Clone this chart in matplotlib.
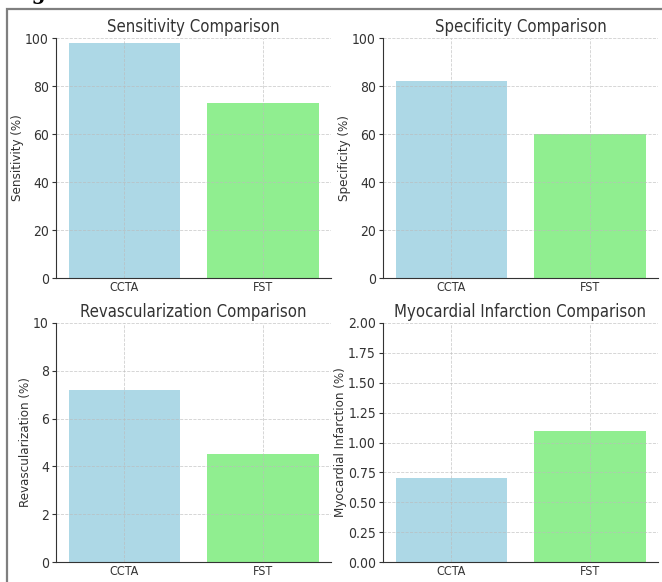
import matplotlib
matplotlib.use("Agg")
import matplotlib.pyplot as plt
from matplotlib.patches import Rectangle

# values
methods = ["CCTA", "FST"]
sensitivity = [98, 73]
specificity = [82, 60]
revasc = [7.2, 4.5]
mi = [0.70, 1.10]

colors = ["lightblue", "lightgreen"]

plt.rcParams['font.family'] = ['DejaVu Sans']
plt.rcParams['font.stretch'] = 'condensed'
plt.rcParams['text.color'] = '#333333'
plt.rcParams['axes.labelcolor'] = '#333333'
plt.rcParams['xtick.color'] = '#333333'
plt.rcParams['ytick.color'] = '#333333'

fig = plt.figure(figsize=(6.62, 5.82), dpi=100)

W, H = 662.0, 582.0
panels = [
    # (left, right, top, bottom) in pixels, values, ylabel, title, ylim, ticks
    ((56, 331, 38, 278), sensitivity, "Sensitivity (%)", "Sensitivity Comparison", 100, [0, 20, 40, 60, 80, 100]),
    ((383, 658, 38, 278), specificity, "Specificity (%)", "Specificity Comparison", 100, [0, 20, 40, 60, 80, 100]),
    ((56, 331, 323, 562), revasc, "Revascularization (%)", "Revascularization Comparison", 10, [0, 2, 4, 6, 8, 10]),
    ((383, 658, 323, 562), mi, "Myocardial Infarction (%)", "Myocardial Infarction Comparison", 2.0,
     [0, 0.25, 0.5, 0.75, 1.0, 1.25, 1.5, 1.75, 2.0]),
]

for (l, r, t, b), vals, ylab, title, ymax, ticks in panels:
    ax = fig.add_axes([l / W, 1 - b / H, (r - l) / W, (b - t) / H])
    ax.bar(methods, vals, color=colors, width=0.8)
    ax.set_ylim(0, ymax)
    ax.set_yticks(ticks)
    if ymax == 2.0:
        ax.set_yticklabels(["%.2f" % v for v in ticks])
    ax.set_title(title, fontsize=12, pad=4)
    ax.set_ylabel(ylab, fontsize=9.5, labelpad=1)
    ax.tick_params(axis='y', labelsize=10, length=3, width=0.8, pad=2)
    ax.tick_params(axis='x', labelsize=9, length=0, pad=2)
    ax.grid(True, linestyle='--', linewidth=0.6, color='#bbbbbb', alpha=0.7)
    ax.spines['top'].set_visible(False)
    ax.spines['right'].set_visible(False)
    ax.spines['left'].set_color('#333333')
    ax.spines['bottom'].set_color('#333333')

# screenshot frame and cut-off heading
fig.patches.append(Rectangle((7 / W, -0.1), 1.2, 1 - 8.5 / H + 0.1, transform=fig.transFigure,
                             fill=False, edgecolor='#7f7f7f', linewidth=1.6))
fig.text(10 / W, 1 + 1 / H, "Figure 2", fontsize=16, fontweight='bold', family='DejaVu Serif',
         color='black', va='baseline', ha='left')

fig.savefig("out.png", dpi=100)
